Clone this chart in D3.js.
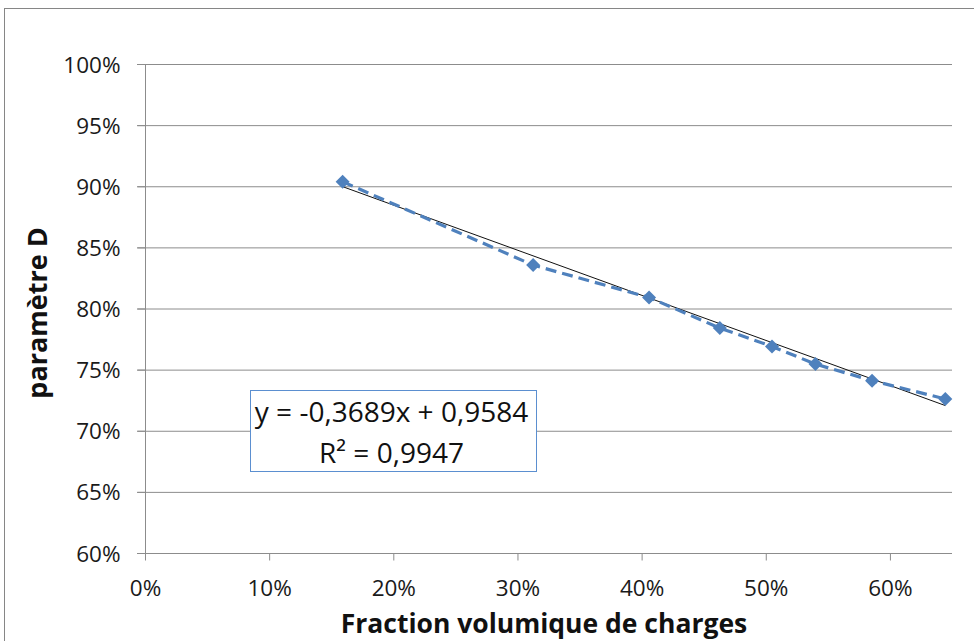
<!DOCTYPE html>
<html><head><meta charset="utf-8">
<script src="https://cdn.jsdelivr.net/npm/d3@7"></script>
<style>body{margin:0;background:#fff}svg{display:block}</style>
</head><body>
<script>
const xValues = [0.1592, 0.3126, 0.4060, 0.4630, 0.5050, 0.5400, 0.5856, 0.6446];
const yValues = [0.9037, 0.8355, 0.8090, 0.7840, 0.7690, 0.7545, 0.7410, 0.7260];
const xTicks = [0, 0.1, 0.2, 0.3, 0.4, 0.5, 0.6];
const yTicks = [0.60, 0.65, 0.70, 0.75, 0.80, 0.85, 0.90, 0.95, 1.00];
const slope = -0.3689, intercept = 0.9584;
const eqText = "y = -0,3689x + 0,9584";
const r2Text = "R² = 0,9947";
const xTitle = "Fraction volumique de charges";
const yTitle = "paramètre D";

const W = 974, H = 641;
const font = "'Open Sans', sans-serif";
const svg = d3.select("body").append("svg").attr("width", W).attr("height", H);
svg.append("rect").attr("x", 4.5).attr("y", 8.5).attr("width", W).attr("height", H)
  .attr("fill", "#fff").attr("stroke", "#868686");

const x = d3.scaleLinear().domain([0, 0.65]).range([145, 952]);
const y = d3.scaleLinear().domain([0.6, 1.0]).range([553, 64]);
const pct = d => Math.round(d * 100) + "%";

// gridlines
svg.append("g").selectAll("line").data(yTicks).join("line")
  .attr("x1", 137).attr("x2", 952).attr("y1", d => y(d) + 0.5).attr("y2", d => y(d) + 0.5)
  .attr("stroke", "#8c8c8c").attr("stroke-width", 1);

// y axis
const ya = svg.append("g").attr("transform", "translate(145.5,0)")
  .call(d3.axisLeft(y).tickValues(yTicks).tickFormat(pct).tickSize(8));
ya.select(".domain").attr("stroke", "#8c8c8c").attr("d", `M0,${y(1)}V${y(0.6)}`);
ya.selectAll(".tick line").attr("stroke", "#8c8c8c");
ya.selectAll("text").attr("font-family", font).attr("font-size", 22.5).attr("fill", "#1a1a1a")
  .attr("x", -25).attr("dy", "0.36em");

// x axis
const xa = svg.append("g").attr("transform", `translate(0,${y(0.6) + 0.5})`)
  .call(d3.axisBottom(x).tickValues(xTicks).tickFormat(pct).tickSize(7));
xa.select(".domain").attr("stroke", "#8c8c8c").attr("d", `M${x(0)},0H${x(0.65)}`);
xa.selectAll(".tick line").attr("stroke", "#8c8c8c");
xa.selectAll("text").attr("font-family", font).attr("font-size", 22.5).attr("fill", "#1a1a1a")
  .attr("y", 42).attr("dy", "0");

// trendline
const tx0 = d3.min(xValues), tx1 = d3.max(xValues);
svg.append("line")
  .attr("x1", x(tx0)).attr("y1", y(slope * tx0 + intercept))
  .attr("x2", x(tx1)).attr("y2", y(slope * tx1 + intercept))
  .attr("stroke", "#111").attr("stroke-width", 1);

// series
const pts = xValues.map((v, i) => [v, yValues[i]]);
svg.append("path").datum(pts)
  .attr("d", d3.line().x(d => x(d[0])).y(d => y(d[1])))
  .attr("fill", "none").attr("stroke", "#4f81bd").attr("stroke-width", 3.2)
  .attr("stroke-dasharray", "11,6");
svg.append("g").selectAll("path").data(pts).join("path")
  .attr("transform", d => `translate(${x(d[0])},${y(d[1])})`)
  .attr("d", "M0,-7L7,0L0,7L-7,0Z").attr("fill", "#4f81bd");

// equation box
svg.append("rect").attr("x", 250.5).attr("y", 390.5).attr("width", 286).attr("height", 81)
  .attr("fill", "#fff").attr("stroke", "#5b8fd0").attr("stroke-width", 1);
svg.append("text").attr("x", 391.5).attr("y", 422).attr("text-anchor", "middle")
  .attr("font-family", font).attr("font-size", 28).attr("fill", "#111").text(eqText);
svg.append("text").attr("x", 391.5).attr("y", 463).attr("text-anchor", "middle")
  .attr("font-family", font).attr("font-size", 28).attr("fill", "#111").text(r2Text);

// titles
svg.append("text").attr("x", 544).attr("y", 633).attr("text-anchor", "middle")
  .attr("font-family", font).attr("font-weight", "bold").attr("font-size", 26.5).attr("fill", "#111").text(xTitle);
svg.append("text").attr("transform", "translate(47,313) rotate(-90)").attr("text-anchor", "middle")
  .attr("font-family", font).attr("font-weight", "bold").attr("font-size", 27).attr("fill", "#111").text(yTitle);
</script>
</body></html>
